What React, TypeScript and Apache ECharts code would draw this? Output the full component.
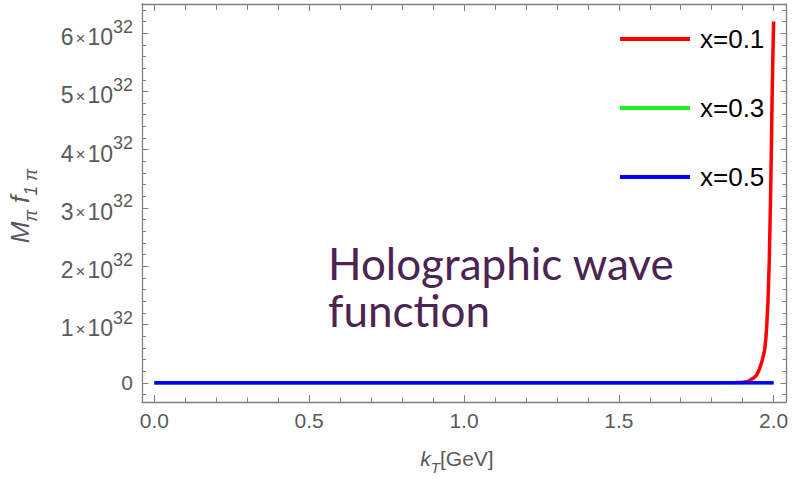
import React, { useEffect, useRef } from "react";
import * as echarts from "echarts";

// values in units of 1e32
const SCALE = 1e32;
const kRed = [0, 0.5, 1.0, 1.5, 1.8, 1.88, 1.9, 1.917, 1.934, 1.945, 1.953, 1.962, 1.971, 1.975, 1.978, 1.982, 1.986, 1.99, 1.993, 1.995, 1.998, 2.0];
const redValues = [0, 0, 0, 0, 0.001, 0.005, 0.01, 0.02, 0.076, 0.13, 0.22, 0.36, 0.56, 0.76, 1.0, 1.42, 2.1, 3.14, 4.1, 4.85, 5.7, 6.2];
const kFlat = [0, 0.5, 1.0, 1.5, 2.0];
const greenValues = [0, 0, 0, 0, 0];
const blueValues = [0, 0, 0, 0, 0];

const seriesNames = ["x=0.1", "x=0.3", "x=0.5"];
const seriesColors = ["#ff0000", "#1ef01e", "#0000ff"];

const xMajor = [0, 0.5, 1.0, 1.5, 2.0];
const xMinor = [0.1, 0.2, 0.3, 0.4, 0.6, 0.7, 0.8, 0.9, 1.1, 1.2, 1.3, 1.4, 1.6, 1.7, 1.8, 1.9];
const yMajor = [0, 1, 2, 3, 4, 5, 6];
const yMinor = [-0.2, 0.2, 0.4, 0.6, 0.8, 1.2, 1.4, 1.6, 1.8, 2.2, 2.4, 2.6, 2.8, 3.2, 3.4, 3.6, 3.8, 4.2, 4.4, 4.6, 4.8, 5.2, 5.4, 5.6, 5.8, 6.2, 6.4];

const X_MIN = -0.04;
const X_MAX = 2.04;
const Y_MIN = -0.33;
const Y_MAX = 6.5;

const FRAME = "#7f7f7f";
const LABEL = "#5a5a5a";
const FONT = "'Liberation Sans', Arial, sans-serif";

export default function App() {
  const ref = useRef<HTMLDivElement>(null);
  useEffect(() => {
    if (!ref.current) return;
    const chart = echarts.init(ref.current, null, { renderer: "svg" });

    const pair = (ks: number[], vs: number[]) => ks.map((k, i) => [k, vs[i] * SCALE]);

    const xAxisBase = (position: "bottom" | "top", ticks: number[], len: number, line: boolean, labels: boolean, name?: boolean) => ({
      type: "value",
      position,
      min: X_MIN,
      max: X_MAX,
      splitLine: { show: false },
      axisLine: { show: line, onZero: false, lineStyle: { color: FRAME, width: 1.3 } },
      axisTick: { show: true, inside: true, length: len, customValues: ticks, lineStyle: { color: FRAME, width: 1 } },
      axisLabel: labels
        ? { show: true, customValues: ticks, formatter: (v: number) => v.toFixed(1), color: LABEL, fontSize: 21, fontFamily: FONT, margin: 8 }
        : { show: false },
      ...(name
        ? {
            name: "{k|k}{t|T}{g|[GeV]}",
            nameLocation: "middle",
            nameGap: 46,
            nameTextStyle: {
              padding: [0, 14, 0, 0],
              rich: {
                k: { fontSize: 21, fontStyle: "italic", color: LABEL, fontFamily: FONT, verticalAlign: "top", lineHeight: 27 },
                t: { fontSize: 15, fontStyle: "italic", color: LABEL, fontFamily: FONT, verticalAlign: "bottom", lineHeight: 27 },
                g: { fontSize: 21, color: LABEL, fontFamily: FONT, verticalAlign: "top", lineHeight: 27 },
              },
            },
          }
        : {}),
    });

    const yAxisBase = (position: "left" | "right", ticks: number[], len: number, line: boolean, labels: boolean, name?: boolean) => ({
      type: "value",
      position,
      min: Y_MIN * SCALE,
      max: Y_MAX * SCALE,
      splitLine: { show: false },
      axisLine: { show: line, onZero: false, lineStyle: { color: FRAME, width: 1.3 } },
      axisTick: { show: true, inside: true, length: len, customValues: ticks.map((t) => t * SCALE), lineStyle: { color: FRAME, width: 1 } },
      axisLabel: labels
        ? {
            show: true,
            customValues: ticks.map((t) => t * SCALE),
            formatter: (v: number) => {
              const n = Math.round(v / SCALE);
              return n === 0 ? "{z|0}" : `{n|${n}}{x|×}{n|10}{s|32}`;
            },
            margin: 9,
            rich: {
              z: { fontSize: 21, color: LABEL, fontFamily: FONT },
              n: { fontSize: 23, color: LABEL, fontFamily: FONT, verticalAlign: "bottom", lineHeight: 31 },
              x: { fontSize: 17, color: LABEL, fontFamily: FONT, verticalAlign: "bottom", lineHeight: 31, padding: [0, 2, 2, 2] },
              s: { fontSize: 18, color: LABEL, fontFamily: FONT, verticalAlign: "top", lineHeight: 31 },
            },
          }
        : { show: false },
      ...(name
        ? {
            name: "{m|M}{ms|π}{sp| }{f|f}{fs|1 π}",
            nameLocation: "middle",
            nameGap: 102,
            nameRotate: 90,
            nameTextStyle: {
              padding: [0, 6, 0, 0],
              rich: {
                m: { fontSize: 26, fontStyle: "italic", color: LABEL, fontFamily: FONT, verticalAlign: "top", lineHeight: 33 },
                ms: { fontSize: 18, fontStyle: "italic", color: LABEL, fontFamily: FONT, verticalAlign: "bottom", lineHeight: 33 },
                sp: { fontSize: 24, lineHeight: 33 },
                f: { fontSize: 26, fontStyle: "italic", color: LABEL, fontFamily: FONT, verticalAlign: "top", lineHeight: 33 },
                fs: { fontSize: 18, fontStyle: "italic", color: LABEL, fontFamily: FONT, verticalAlign: "bottom", lineHeight: 33 },
              },
            },
          }
        : {}),
    });

    const lineSeries = (name: string, color: string, data: number[][]) => ({
      name,
      type: "line",
      data,
      symbol: "none",
      showSymbol: false,
      xAxisIndex: 0,
      yAxisIndex: 0,
      lineStyle: { color, width: 3.5 },
      itemStyle: { color },
      clip: true,
    });

    chart.setOption({
      animation: false,
      backgroundColor: "#ffffff",
      grid: { left: 142, right: 21, top: 4, bottom: 77, containLabel: false, outerBoundsMode: "none" },
      xAxis: [
        xAxisBase("bottom", xMajor, 7, true, true, true),
        xAxisBase("bottom", xMinor, 4.5, false, false),
        xAxisBase("top", xMajor, 7, true, false),
        xAxisBase("top", xMinor, 6, false, false),
      ],
      yAxis: [
        yAxisBase("left", yMajor, 6.5, true, true, true),
        yAxisBase("left", yMinor, 4, false, false),
        yAxisBase("right", yMajor, 5.5, true, false),
        yAxisBase("right", yMinor, 3.5, false, false),
      ],
      legend: {
        data: seriesNames.map((n, i) => ({ name: n, icon: "rect", itemStyle: { color: seriesColors[i] } })),
        orient: "vertical",
        left: 615,
        top: 19,
        itemWidth: 70,
        itemHeight: 4,
        itemGap: 39,
        textStyle: { fontSize: 26, color: "#000000", fontFamily: FONT, padding: [0, 0, 0, 5], lineHeight: 30 },
        selectedMode: false,
      },
      graphic: [
        {
          type: "text",
          x: 328,
          y: 263,
          silent: true,
          style: { text: "Holographic wave", fontSize: 44, fontFamily: "Lato", fill: "#4B2552", verticalAlign: "middle", align: "left" },
        },
        {
          type: "text",
          x: 328,
          y: 310,
          silent: true,
          style: { text: "function", fontSize: 44, fontFamily: "Lato", fill: "#4B2552", verticalAlign: "middle", align: "left" },
        },
      ],
      series: [
        lineSeries(seriesNames[0], seriesColors[0], pair(kRed, redValues)),
        lineSeries(seriesNames[1], seriesColors[1], pair(kFlat, greenValues)),
        lineSeries(seriesNames[2], seriesColors[2], pair(kFlat, blueValues)),
      ],
    });

    return () => chart.dispose();
  }, []);

  return <div ref={ref} style={{ position: "fixed", left: 0, top: 0, width: 807, height: 479 }} />;
}
